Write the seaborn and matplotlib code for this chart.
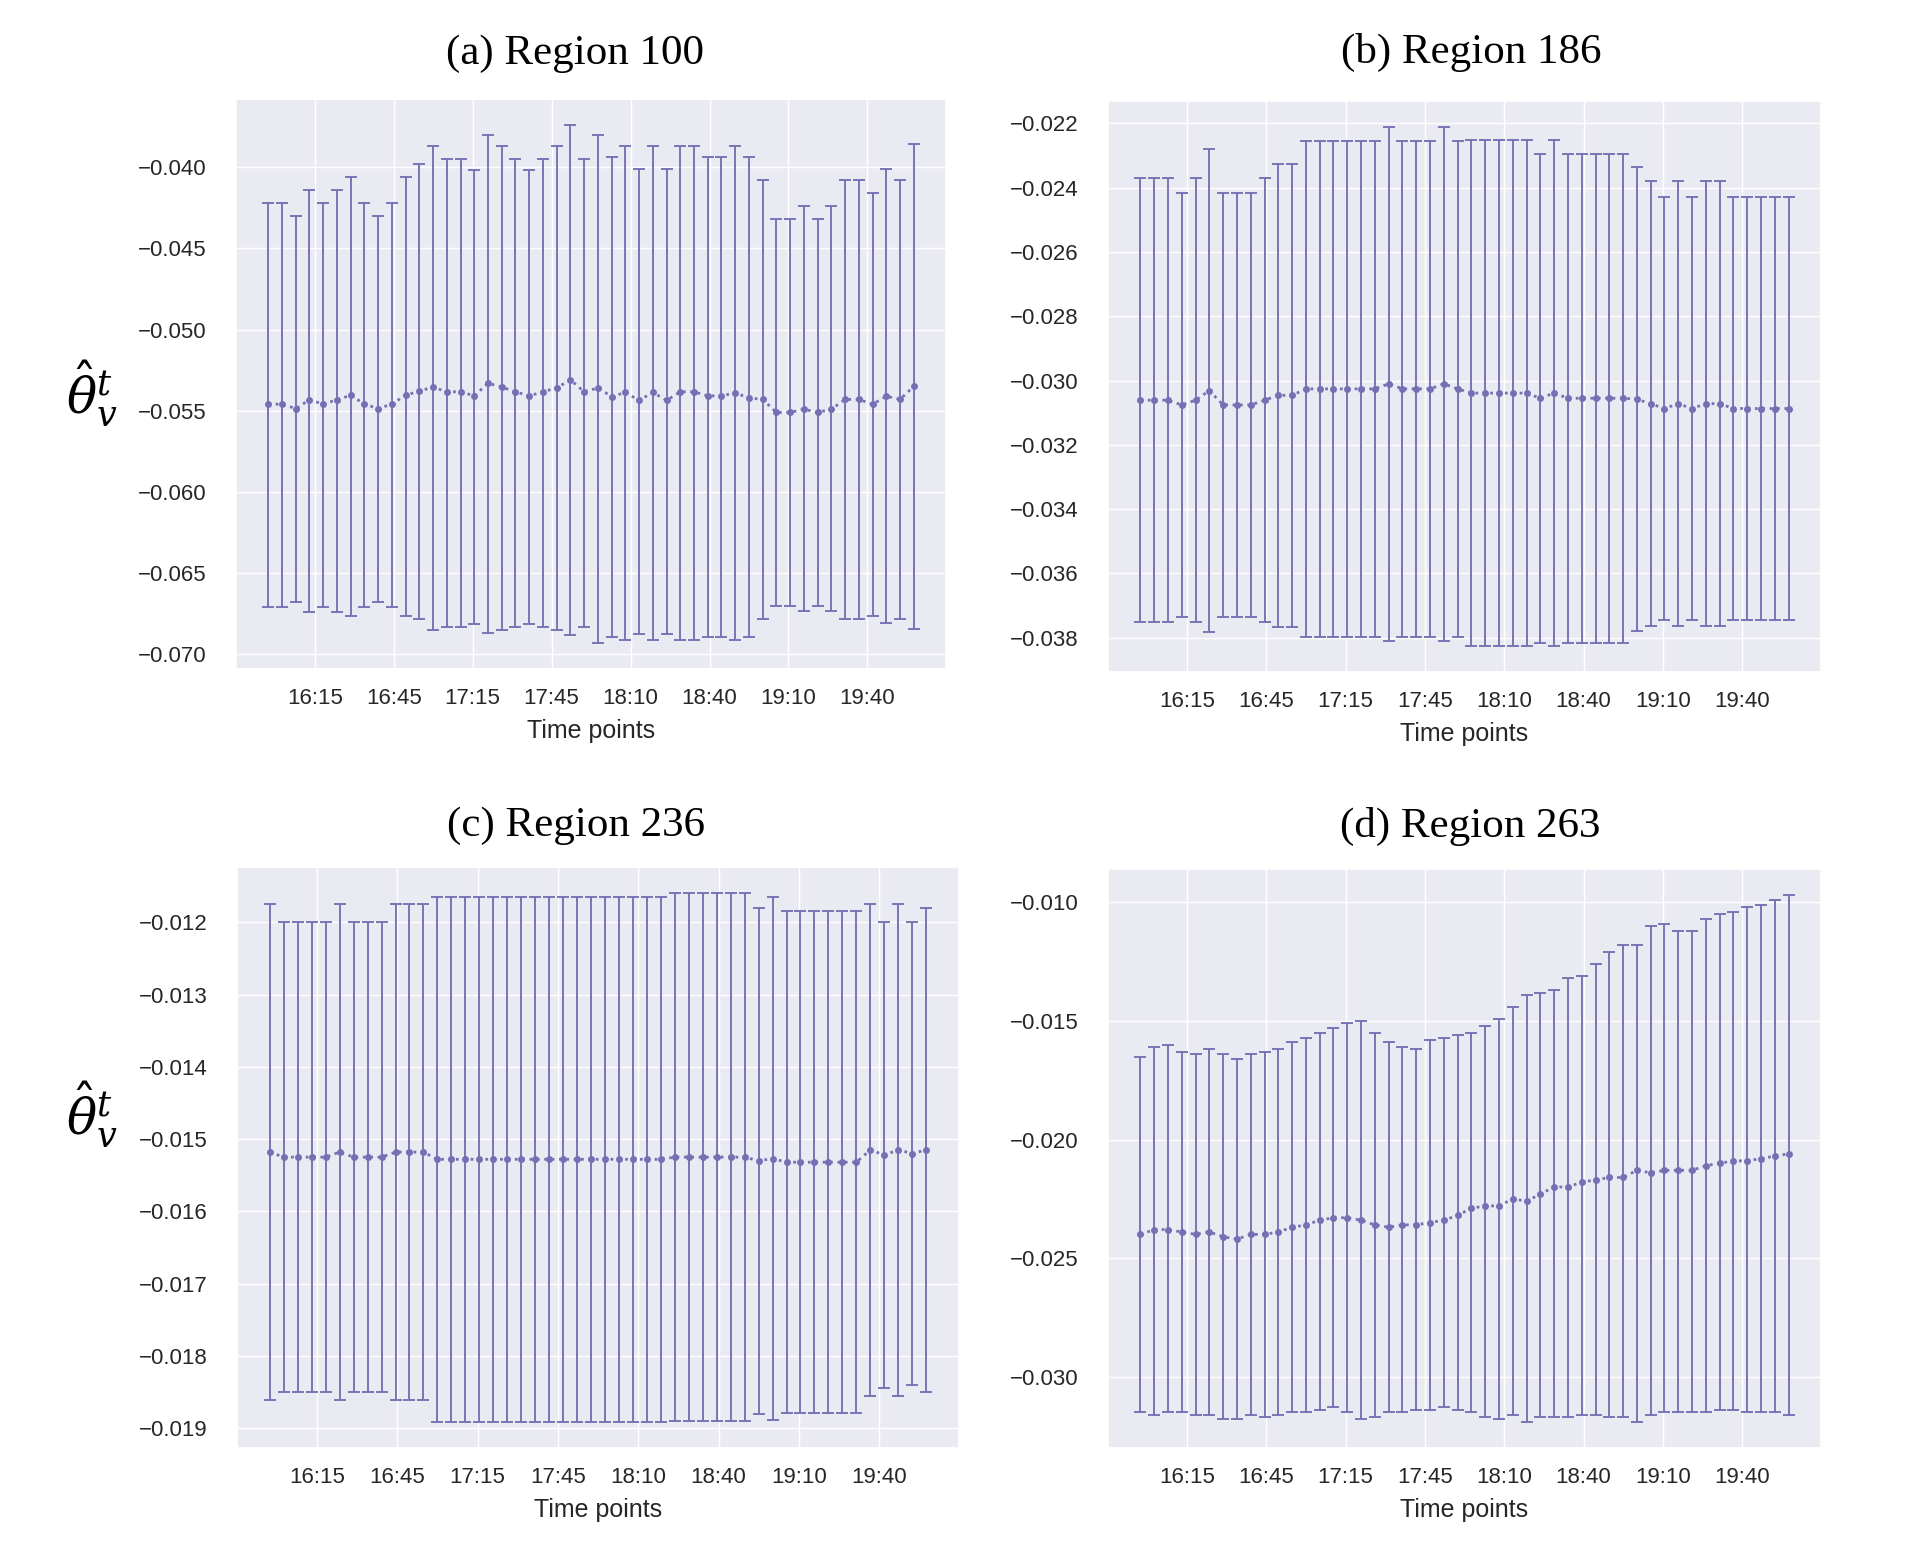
import numpy as np
import matplotlib
matplotlib.use("Agg")
import matplotlib.pyplot as plt
import seaborn as sns

# ---- data ----
TIME_LABELS = ["16:15", "16:45", "17:15", "17:45", "18:10", "18:40", "19:10", "19:40"]

A_HIGH = [-0.0422, -0.0422, -0.0430, -0.0414, -0.0422, -0.0414, -0.0406, -0.0422,
          -0.0430, -0.0422, -0.0406, -0.0398, -0.0387, -0.0395, -0.0395, -0.0402,
          -0.0380, -0.0387, -0.0395, -0.0402, -0.0395, -0.0387, -0.0374, -0.0395,
          -0.0380, -0.0394, -0.0387, -0.0401, -0.0387, -0.0401, -0.0387, -0.0387,
          -0.0394, -0.0394, -0.0387, -0.0394, -0.0408, -0.0432, -0.0432, -0.0424,
          -0.0432, -0.0424, -0.0408, -0.0408, -0.0416, -0.0401, -0.0408, -0.0386]
A_MEAN = [-0.05459, -0.05459, -0.05486, -0.05432, -0.05459, -0.05432, -0.05404, -0.05459,
          -0.05486, -0.05459, -0.05404, -0.05379, -0.05354, -0.05383, -0.05383, -0.05408,
          -0.05330, -0.05354, -0.05383, -0.05408, -0.05383, -0.05359, -0.05309, -0.05383,
          -0.05359, -0.05412, -0.05387, -0.05436, -0.05387, -0.05436, -0.05383, -0.05383,
          -0.05408, -0.05408, -0.05390, -0.05420, -0.05430, -0.05510, -0.05510, -0.05490,
          -0.05510, -0.05490, -0.05430, -0.05430, -0.05460, -0.05410, -0.05430, -0.05350]
A_LOW = [-0.06708, -0.06708, -0.06679, -0.06737, -0.06708, -0.06737, -0.06761, -0.06708,
         -0.06679, -0.06708, -0.06761, -0.06782, -0.06850, -0.06829, -0.06829, -0.06811,
         -0.06868, -0.06850, -0.06829, -0.06811, -0.06829, -0.06850, -0.06883, -0.06829,
         -0.06930, -0.06891, -0.06912, -0.06875, -0.06912, -0.06875, -0.06912, -0.06912,
         -0.06891, -0.06891, -0.06912, -0.06891, -0.06782, -0.06702, -0.06702, -0.06733,
         -0.06702, -0.06733, -0.06782, -0.06782, -0.06761, -0.06807, -0.06782, -0.06846]

B_HIGH = [-0.02370, -0.02370, -0.02370, -0.02416, -0.02370, -0.02281, -0.02416, -0.02416,
          -0.02416, -0.02370, -0.02325, -0.02325, -0.02254, -0.02254, -0.02254, -0.02254,
          -0.02254, -0.02254, -0.02211, -0.02254, -0.02254, -0.02254, -0.02211, -0.02254,
          -0.02252, -0.02252, -0.02252, -0.02252, -0.02252, -0.02294, -0.02252, -0.02294,
          -0.02294, -0.02294, -0.02294, -0.02294, -0.02335, -0.02380, -0.02428, -0.02380,
          -0.02428, -0.02380, -0.02380, -0.02428, -0.02428, -0.02428, -0.02428, -0.02428]
B_MEAN = [-0.03061, -0.03061, -0.03061, -0.03076, -0.03061, -0.03031, -0.03076, -0.03076,
          -0.03076, -0.03061, -0.03046, -0.03046, -0.03026, -0.03026, -0.03026, -0.03026,
          -0.03026, -0.03026, -0.03010, -0.03026, -0.03026, -0.03026, -0.03010, -0.03026,
          -0.03039, -0.03039, -0.03039, -0.03039, -0.03039, -0.03055, -0.03039, -0.03055,
          -0.03055, -0.03055, -0.03055, -0.03055, -0.03058, -0.03072, -0.03087, -0.03072,
          -0.03087, -0.03072, -0.03072, -0.03087, -0.03087, -0.03087, -0.03087, -0.03087]
B_LOW = [-0.03752, -0.03752, -0.03752, -0.03735, -0.03752, -0.03781, -0.03735, -0.03735,
         -0.03735, -0.03752, -0.03767, -0.03767, -0.03797, -0.03797, -0.03797, -0.03797,
         -0.03797, -0.03797, -0.03809, -0.03797, -0.03797, -0.03797, -0.03809, -0.03797,
         -0.03826, -0.03826, -0.03826, -0.03826, -0.03826, -0.03815, -0.03826, -0.03815,
         -0.03815, -0.03815, -0.03815, -0.03815, -0.03780, -0.03764, -0.03746, -0.03764,
         -0.03746, -0.03764, -0.03764, -0.03746, -0.03746, -0.03746, -0.03746, -0.03746]

C_HIGH = [-0.01175, -0.01200, -0.01200, -0.01200, -0.01200, -0.01175, -0.01200, -0.01200,
          -0.01200, -0.01175, -0.01175, -0.01175, -0.01165, -0.01165, -0.01165, -0.01165,
          -0.01165, -0.01165, -0.01165, -0.01165, -0.01165, -0.01165, -0.01165, -0.01165,
          -0.01165, -0.01165, -0.01165, -0.01165, -0.01165, -0.01160, -0.01160, -0.01160,
          -0.01160, -0.01160, -0.01160, -0.01180, -0.01165, -0.01185, -0.01185, -0.01185,
          -0.01185, -0.01185, -0.01185, -0.01175, -0.01200, -0.01175, -0.01200, -0.01180]
C_MEAN = [-0.01518, -0.01525, -0.01525, -0.01525, -0.01525, -0.01518, -0.01525, -0.01525,
          -0.01525, -0.01518, -0.01518, -0.01518, -0.01528, -0.01528, -0.01528, -0.01528,
          -0.01528, -0.01528, -0.01528, -0.01528, -0.01528, -0.01528, -0.01528, -0.01528,
          -0.01528, -0.01528, -0.01528, -0.01528, -0.01528, -0.01525, -0.01525, -0.01525,
          -0.01525, -0.01525, -0.01525, -0.01530, -0.01527, -0.01532, -0.01532, -0.01532,
          -0.01532, -0.01532, -0.01532, -0.01515, -0.01522, -0.01515, -0.01520, -0.01515]
C_LOW = [-0.01861, -0.01850, -0.01850, -0.01850, -0.01850, -0.01861, -0.01850, -0.01850,
         -0.01850, -0.01861, -0.01861, -0.01861, -0.01891, -0.01891, -0.01891, -0.01891,
         -0.01891, -0.01891, -0.01891, -0.01891, -0.01891, -0.01891, -0.01891, -0.01891,
         -0.01891, -0.01891, -0.01891, -0.01891, -0.01891, -0.01890, -0.01890, -0.01890,
         -0.01890, -0.01890, -0.01890, -0.01880, -0.01889, -0.01879, -0.01879, -0.01879,
         -0.01879, -0.01879, -0.01879, -0.01855, -0.01844, -0.01855, -0.01840, -0.01850]

D_HIGH = [-0.0165, -0.0161, -0.0160, -0.0163, -0.0164, -0.0162, -0.0164, -0.0166,
          -0.0164, -0.0163, -0.0162, -0.0159, -0.0157, -0.0155, -0.0153, -0.0151,
          -0.0150, -0.0155, -0.0159, -0.0161, -0.0162, -0.0158, -0.0157, -0.0156,
          -0.0155, -0.0152, -0.0149, -0.0144, -0.0139, -0.0138, -0.0137, -0.0132,
          -0.0131, -0.0126, -0.0121, -0.0118, -0.0118, -0.0110, -0.0109, -0.0112,
          -0.0112, -0.0107, -0.0105, -0.0104, -0.0102, -0.0101, -0.0099, -0.0097]
D_MEAN = [-0.0240, -0.0238, -0.0238, -0.0239, -0.0240, -0.0239, -0.0241, -0.0242,
          -0.0240, -0.0240, -0.0239, -0.0237, -0.0236, -0.0234, -0.0233, -0.0233,
          -0.0234, -0.0236, -0.0237, -0.0236, -0.0236, -0.0235, -0.0234, -0.0232,
          -0.0229, -0.0228, -0.0228, -0.0225, -0.0226, -0.0223, -0.0220, -0.0220,
          -0.0218, -0.0217, -0.0216, -0.0216, -0.0213, -0.0214, -0.0213, -0.0213,
          -0.0213, -0.0211, -0.0210, -0.0209, -0.0209, -0.0208, -0.0207, -0.0206]
D_LOW = [-0.0315, -0.0316, -0.0315, -0.0315, -0.0316, -0.0316, -0.0318, -0.0318,
         -0.0316, -0.0317, -0.0316, -0.0315, -0.0315, -0.0314, -0.0313, -0.0315,
         -0.0318, -0.0317, -0.0315, -0.0315, -0.0314, -0.0314, -0.0313, -0.0314,
         -0.0315, -0.0317, -0.0318, -0.0316, -0.0319, -0.0317, -0.0317, -0.0317,
         -0.0316, -0.0316, -0.0317, -0.0317, -0.0319, -0.0316, -0.0315, -0.0315,
         -0.0315, -0.0315, -0.0314, -0.0314, -0.0315, -0.0315, -0.0315, -0.0316]

TITLES = ["(a) Region 100", "(b) Region 186", "(c) Region 236", "(d) Region 263"]
COLOR = "#7570b3"

W, H = 1910, 1568
# axes boxes in pixels: left, top, right, bottom
BOXES = [(236, 99, 946, 669), (1108, 101, 1821, 672),
         (237, 867, 959, 1448), (1108, 869, 1821, 1448)]
TITLE_POS = [(575, 54), (1471, 52), (576, 826), (1470, 826)]
YLABEL_POS = [(92, 394), (92, 1115)]

sns.set_theme(style="darkgrid")
plt.rcParams["font.family"] = ["Liberation Sans", "DejaVu Sans"]
plt.rcParams["mathtext.fontset"] = "dejavuserif"


def plot_region(ax, mean, low, high):
    x = np.arange(len(mean))
    mean = np.asarray(mean)
    yerr = [mean - np.asarray(low), np.asarray(high) - mean]
    ax.errorbar(x, mean, yerr=yerr, fmt="none", ecolor=COLOR, elinewidth=1.35,
                capsize=4.6, capthick=1.35)
    sns.lineplot(x=x, y=mean, ax=ax, color=COLOR, marker="o", markersize=5,
                 markeredgewidth=0, linestyle=":", linewidth=2)
    ticks = [3.38 + 5.75 * k for k in range(len(TIME_LABELS))]
    ax.set_xticks(ticks)
    ax.set_xticklabels(TIME_LABELS)
    ax.tick_params(labelsize=16, colors=".15")
    ax.tick_params(axis="x", pad=8)
    ax.tick_params(axis="y", pad=15)
    ax.set_xlabel("Time points", fontsize=18, labelpad=7, color=".15")
    ax.set_ylabel("")


def main():
    fig = plt.figure(figsize=(W / 100, H / 100), dpi=100)
    data = [(A_MEAN, A_LOW, A_HIGH), (B_MEAN, B_LOW, B_HIGH),
            (C_MEAN, C_LOW, C_HIGH), (D_MEAN, D_LOW, D_HIGH)]
    for (l, t, r, b), (m, lo, hi), title, (tx, ty) in zip(BOXES, data, TITLES, TITLE_POS):
        ax = fig.add_axes([l / W, 1 - b / H, (r - l) / W, (b - t) / H])
        plot_region(ax, m, lo, hi)
        fig.text(tx / W, 1 - ty / H, title, ha="center", va="center",
                 fontsize=31, family="Liberation Serif", color="black")
    for (px, py) in YLABEL_POS:
        fig.text(px / W, 1 - py / H, r"$\hat{\theta}_{v}^{t}$", ha="center",
                 va="center", fontsize=36, color="black")
    fig.savefig("out.png", dpi=100)
    plt.close(fig)


if __name__ == "__main__":
    main()
